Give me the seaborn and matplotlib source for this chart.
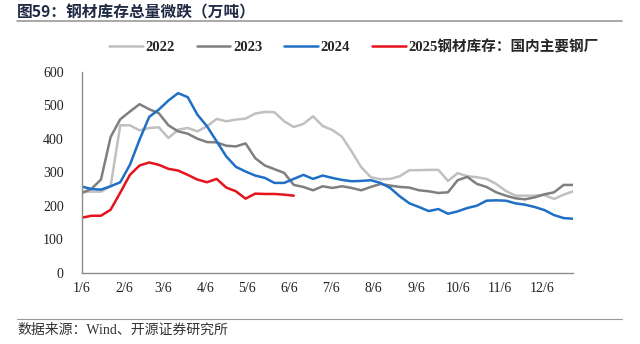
import matplotlib
matplotlib.use("Agg")
import matplotlib.pyplot as plt
from matplotlib.lines import Line2D
import seaborn as sns
import pandas as pd

# ---------------- data (weekly, starting Jan 6) ----------------
series_names = ["2022", "2023", "2024", "2025钢材库存：国内主要钢厂"]

v2022 = [240, 242, 242, 258, 440, 440, 425, 432, 434, 402, 427, 432, 422, 437,
         459, 452, 457, 460, 475, 480, 479, 452, 435, 444, 467, 438, 426, 406,
         362, 315, 285, 279, 280, 288, 306, 306, 307, 307, 274, 297, 288, 285,
         280, 265, 244, 230, 230, 230, 232, 220, 233, 243]
v2023 = [238, 250, 278, 405, 458, 481, 503, 488, 476, 440, 422, 415, 400, 390,
         389, 379, 377, 386, 342, 320, 309, 298, 262, 256, 246, 258, 253, 258,
         253, 246, 256, 265, 260, 256, 254, 246, 243, 238, 240, 276, 286, 265,
         256, 240, 230, 222, 219, 225, 234, 240, 262, 262]
v2024 = [257, 250, 248, 258, 270, 322, 397, 465, 487, 514, 536, 524, 472, 437,
         392, 347, 316, 302, 290, 283, 268, 268, 280, 292, 280, 290, 283, 277,
         273, 274, 276, 268, 253, 228, 207, 196, 184, 190, 176, 183, 193, 200,
         215, 216, 215, 207, 203, 196, 187, 172, 163, 161]
v2025 = [164, 170, 170, 188, 239, 292, 320, 329, 322, 310, 305, 292, 278, 270,
         280, 254, 243, 221, 236, 235, 235, 233, 230]

month_ticks = list(range(1, 13))
tick_labels = [f"{m}/6" for m in month_ticks]
y_ticks = [0, 100, 200, 300, 400, 500, 600]

colors = {"2022": "#c0c0c0", "2023": "#7f7f7f", "2024": "#1f6fc6",
          "2025钢材库存：国内主要钢厂": "#e5131b"}

# ---------------- build long table ----------------
rows = []
for name, vals in zip(series_names, [v2022, v2023, v2024, v2025]):
    dates = pd.date_range("2021-01-06", periods=len(vals), freq="7D")
    for d, v in zip(dates, vals):
        rows.append({"date": d, "value": v, "series": name})
df = pd.DataFrame(rows)

# ---------------- plot ----------------
sns.set_style("white")
plt.rcParams["font.family"] = ["Liberation Serif", "Noto Sans CJK SC", "DejaVu Sans"]

fig = plt.figure(figsize=(6.4, 3.44), dpi=100)
ax = fig.add_axes([81.7 / 640, 1 - 272.7 / 344, (573.3 - 81.7) / 640, (272.7 - 71.7) / 344])

sns.lineplot(data=df, x="date", y="value", hue="series", hue_order=series_names,
             palette=colors, linewidth=1.8, ax=ax, legend=False)

ax.set_xlim(pd.Timestamp("2021-01-06"), pd.Timestamp("2021-12-29"))
ax.set_ylim(0, 600)
ax.set_xticks([pd.Timestamp(f"2021-{m:02d}-06") for m in month_ticks])
ax.set_xticklabels(tick_labels)
ax.set_yticks(y_ticks)
ax.set_xlabel("")
ax.set_ylabel("")
for s in ["top", "right"]:
    ax.spines[s].set_visible(False)
for s in ["left", "bottom"]:
    ax.spines[s].set_color("#8c8c8c")
    ax.spines[s].set_linewidth(1.0)
ax.tick_params(axis="both", direction="in", length=4, width=1.0, color="#8c8c8c",
               labelsize=10, labelcolor="#222222")
ax.tick_params(axis="x", pad=7)
ax.tick_params(axis="y", pad=13)
for lab in ax.get_xticklabels() + ax.get_yticklabels():
    lab.set_family(["Liberation Serif"])
ax.grid(False)

# legend
handles = [Line2D([0], [0], color=colors[n], lw=1.8) for n in series_names]
fig.legend(handles, series_names, loc="center", bbox_to_anchor=(0.553, 0.863),
           ncol=4, frameon=False, handlelength=2.3, handletextpad=0.2,
           columnspacing=1.5, prop={"family": ["Liberation Serif", "Noto Sans CJK SC"],
                                    "size": 10.5, "weight": "bold"})

# title and source
fig.text(17 / 640, 1 - 12 / 344, "图59：钢材库存总量微跌（万吨）", ha="left", va="center",
         fontsize=11.3, fontweight="bold", color="#1f2a44",
         family=["Noto Sans CJK SC", "DejaVu Sans"])
fig.add_artist(Line2D([17 / 640, 622 / 640], [1 - 21 / 344, 1 - 21 / 344],
                      color="#9a9a9a", lw=1.2, transform=fig.transFigure))
fig.add_artist(Line2D([17 / 640, 622 / 640], [1 - 319 / 344, 1 - 319 / 344],
                      color="#9a9a9a", lw=0.8, transform=fig.transFigure))
fig.text(17 / 640, 1 - 330 / 344, "数据来源：Wind、开源证券研究所", ha="left", va="center",
         fontsize=10, color="#333333",
         family=["Liberation Serif", "Noto Sans CJK SC"])

fig.savefig("out.png", dpi=100)
